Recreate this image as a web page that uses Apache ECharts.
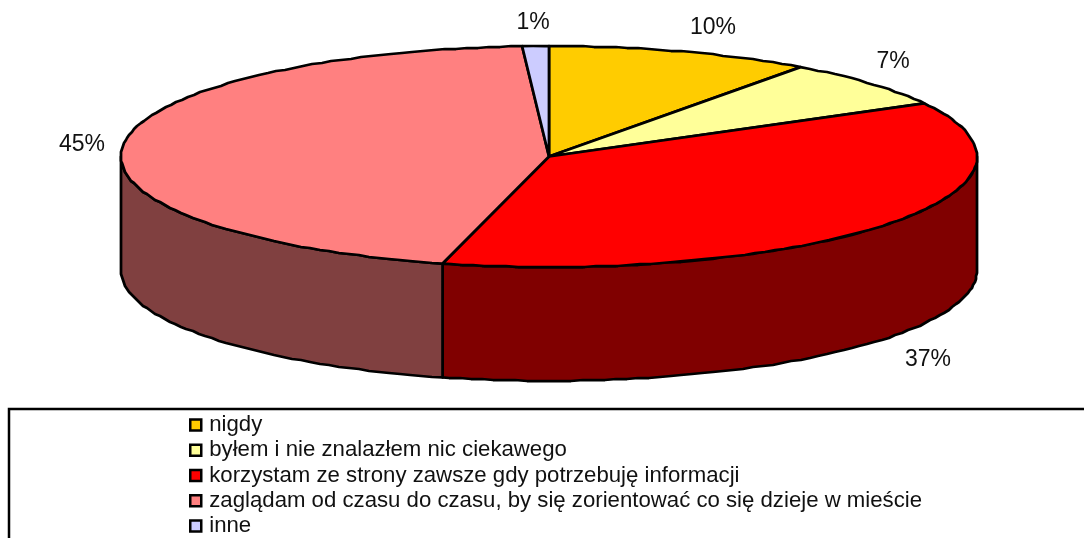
<!DOCTYPE html>
<html><head><meta charset="utf-8">
<style>html,body{margin:0;padding:0;background:#fff;overflow:hidden}#c{width:1084px;height:538px}</style>
<script src="https://cdn.jsdelivr.net/npm/echarts@6/dist/echarts.min.js"></script>
</head><body><div id="c"></div>
<script>
const categories = ['nigdy','byłem i nie znalazłem nic ciekawego','korzystam ze strony zawsze gdy potrzebuję informacji','zaglądam od czasu do czasu, by się zorientować co się dzieje w mieście','inne'];
const values = [10,7,37,45,1];
const labels = ['10%','7%','37%','45%','1%'];
const topColors = ['#FFCC00','#FFFF99','#FF0000','#FF8080','#CCCCFF'];
const wallColors = ['#806600','#80804C','#800000','#804040','#666680'];
const labelCenters = [[713,28],[893,62],[928,360],[82,145],[533,23]];
const DEPTH = 1.03, STEP = 1.5 * Math.PI / 180, GRID = 1;

const total = values.reduce((a,b)=>a+b,0);
const starts = []; values.reduce((a,v,i)=>(starts[i]=a,a+v),0);
const snap = p => [Math.round(p[0]/GRID)*GRID, Math.round(p[1]/GRID)*GRID];

function renderSlice(i){
  return function(params, api){
    const v = api.value(0);
    const a0 = starts[i]/total*2*Math.PI, a1 = (starts[i]+v)/total*2*Math.PI;
    const pt = (a,d)=>api.coord([Math.sin(a), Math.cos(a)-d]);
    const arc = (s,e,d)=>{
      const out=[pt(s,d)];
      for(let a=s+STEP;a<e;a+=STEP) out.push(snap(pt(a,d)));
      out.push(pt(e,d)); return out;
    };
    const children=[];
    const fs=Math.max(a0,Math.PI/2), fe=Math.min(a1,Math.PI*1.5);
    if(fe>fs){
      children.push({type:'polygon',shape:{points:arc(fs,fe,0).concat(arc(fs,fe,DEPTH).reverse())},
        style:{fill:wallColors[i],stroke:'#000',lineWidth:2.75,lineJoin:'round'}});
    }
    children.push({type:'polygon',shape:{points:[api.coord([0,0])].concat(arc(a0,a1,0))},
      style:{fill:topColors[i],stroke:'#000',lineWidth:2.75,lineJoin:'round'}});
    children.push({type:'text',style:{text:labels[i],x:labelCenters[i][0],y:labelCenters[i][1],
      font:'23px "Liberation Sans", Arial, sans-serif',fill:'#111',align:'center',verticalAlign:'middle'}});
    return {type:'group',children};
  };
}

const chart = echarts.init(document.getElementById('c'),null,{renderer:'canvas'});
chart.setOption({
  animation:false,
  backgroundColor:'#fff',
  grid:{left:121,top:46,width:856,height:221,containLabel:false},
  xAxis:{type:'value',min:-1,max:1,show:false},
  yAxis:{type:'value',min:-1,max:1,show:false},
  legend:{
    data:categories, orient:'vertical', left:189, top:414, padding:0, itemGap:3.25,
    itemWidth:11, itemHeight:11, icon:'rect',
    itemStyle:{borderColor:'#000',borderWidth:2.5},
    textStyle:{fontFamily:'"Liberation Sans", Arial, sans-serif',fontSize:22.2,color:'#111',padding:[0,0,0,3],lineHeight:22},
    selectedMode:false
  },
  graphic:[{type:'rect',silent:true,shape:{x:9,y:409,width:1200,height:300},style:{fill:'none',stroke:'#000',lineWidth:2.5}}],
  series:categories.map((name,i)=>({
    type:'custom',name,coordinateSystem:'cartesian2d',clip:false,silent:true,
    itemStyle:{color:topColors[i]},
    renderItem:renderSlice(i),
    data:[[values[i]]]
  }))
});
</script></body></html>
